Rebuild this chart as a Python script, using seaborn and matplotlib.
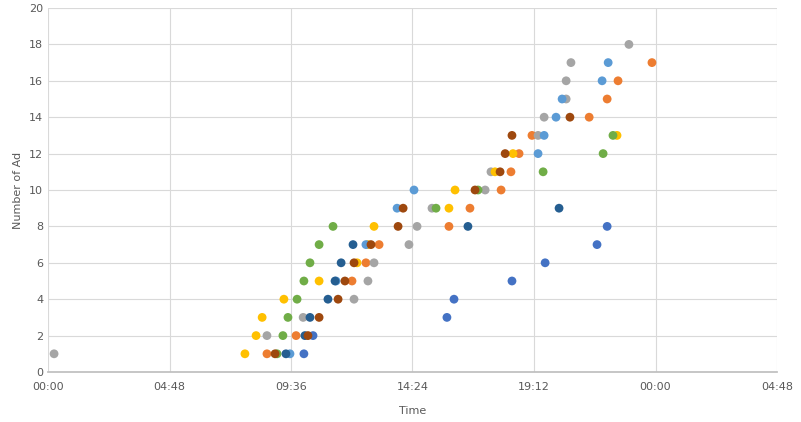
import matplotlib
matplotlib.use("Agg")
import matplotlib.pyplot as plt
import seaborn as sns
import pandas as pd

blue_t = [10.11, 10.47, 15.76, 16.04, 18.33, 19.64, 21.69, 22.09]
blue_v = [1, 2, 3, 4, 5, 6, 7, 8]
orange_t = [8.65, 9.80, 12.01, 12.56, 13.08, 15.84, 16.67, 17.90, 18.29, 18.61, 19.12, 21.38, 22.09, 22.52, 23.86]
orange_v = [1, 2, 5, 6, 7, 8, 9, 10, 11, 12, 13, 14, 15, 16, 17]
gray_t = [0.24, 8.65, 10.08, 12.09, 12.64, 12.88, 14.26, 14.58, 15.17, 17.27, 17.50, 19.36, 19.60, 20.47, 20.47, 20.66, 22.95]
gray_v = [1, 2, 3, 4, 5, 6, 7, 8, 9, 10, 11, 13, 14, 15, 16, 17, 18]
yellow_t = [7.78, 8.22, 8.46, 9.32, 10.71, 12.21, 12.64, 12.88, 15.84, 16.08, 17.66, 18.37, 22.48]
yellow_v = [1, 2, 3, 4, 5, 6, 7, 8, 9, 10, 11, 12, 13]
lblue_t = [9.56, 11.38, 12.56, 13.79, 14.46, 19.36, 19.60, 20.07, 20.31, 21.89, 22.13]
lblue_v = [1, 5, 7, 9, 10, 12, 13, 14, 15, 16, 17]
green_t = [9.05, 9.28, 9.48, 9.84, 10.11, 10.35, 10.71, 11.26, 15.33, 16.99, 19.56, 21.93, 22.32]
green_v = [1, 2, 3, 4, 5, 6, 7, 8, 9, 10, 11, 12, 13]
dblue_t = [9.40, 10.15, 10.35, 11.06, 11.34, 11.58, 12.05, 16.59, 20.19]
dblue_v = [1, 2, 3, 4, 5, 6, 7, 8, 9]
brown_t = [8.97, 10.27, 10.71, 11.46, 11.73, 12.09, 12.76, 13.83, 14.03, 16.87, 17.86, 18.06, 18.33, 20.62]
brown_v = [1, 2, 3, 4, 5, 6, 7, 8, 9, 10, 11, 12, 13, 14]

tick_labels = ["00:00", "04:48", "09:36", "14:24", "19:12", "00:00", "04:48"]

series = [("s1", blue_t, blue_v, "#4472C4"), ("s2", orange_t, orange_v, "#ED7D31"),
          ("s3", gray_t, gray_v, "#A5A5A5"), ("s4", yellow_t, yellow_v, "#FFC000"),
          ("s5", lblue_t, lblue_v, "#5B9BD5"), ("s6", green_t, green_v, "#70AD47"),
          ("s7", dblue_t, dblue_v, "#255E91"), ("s8", brown_t, brown_v, "#9E480E")]
rows = []
for name, t, v, c in series:
    for a, b in zip(t, v):
        rows.append({"s": name, "t": a, "v": b})
df = pd.DataFrame(rows)
pal = {n: c for n, _, _, c in series}

sns.set_theme(style="white")
fig = plt.figure(figsize=(8.01, 4.22), dpi=100)
ax = fig.add_axes([48/801, 1-372/422, (777-48)/801, (372-8)/422])
sns.scatterplot(data=df, x="t", y="v", hue="s", palette=pal, s=40, edgecolor="none", legend=False, ax=ax)
ax.set_xlim(0, 28.8)
ax.set_ylim(0, 20)
ax.set_xticks([i*4.8 for i in range(7)])
ax.set_xticklabels(tick_labels)
ax.set_yticks(range(0, 21, 2))
ax.grid(True, color="#D9D9D9", linewidth=0.8)
ax.set_axisbelow(True)
for sp in ["top", "right", "left"]:
    ax.spines[sp].set_visible(False)
ax.spines["bottom"].set_color("#BFBFBF")
ax.tick_params(labelsize=8, colors="#595959", length=0)
ax.tick_params(axis="x", pad=7)
ax.set_xlabel("Time", fontsize=8, color="#595959", labelpad=10)
ax.set_ylabel("Number of Ad", fontsize=8, color="#595959")
fig.savefig("out.png", dpi=100)
